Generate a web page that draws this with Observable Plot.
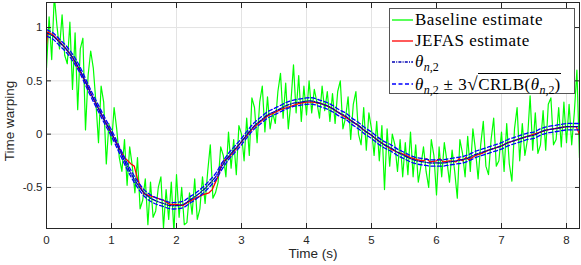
<!DOCTYPE html>
<html><head><meta charset="utf-8">
<script src="https://cdn.jsdelivr.net/npm/d3@7"></script>
<script src="https://cdn.jsdelivr.net/npm/@observablehq/plot@0.6"></script>
<style>
body{margin:0;background:#fff}
#wrap{position:relative;width:581px;height:265px}
#legend{position:absolute;left:389px;top:8px;width:184px;height:84px;border:1px solid #555;background:#fff;font-family:"Liberation Serif","Times New Roman",serif;font-size:17px;color:#000;letter-spacing:0.5px}
.row{position:absolute;left:0;height:22px;display:flex;align-items:center;white-space:nowrap}
.row svg{width:24px;height:22px;flex:none}
.row .t{margin-left:1px}
.sb{font-size:12px;position:relative;top:4px;letter-spacing:0}
.ov{border-top:1px solid #000;padding-top:1px}
.rad{font-size:19px}
#ylab{position:absolute;left:10px;top:121px;width:0;height:0}
#ylab span{position:absolute;left:0;top:0;transform:translate(-50%,-50%) rotate(-90deg);white-space:nowrap;font-family:'Liberation Sans',Arial,Helvetica,sans-serif;font-size:13.5px;color:#262626;line-height:1}
</style>
</head><body>
<div id="wrap"></div>
<script>
// ---- data ----
const xTicks = [0, 1, 2, 3, 4, 5, 6, 7, 8];
const yTicks = [-0.5, 0, 0.5, 1];
const xDomain = [0, 8.2];
const yDomain = [-0.885, 1.235];

// true warping theta_{n,2}, sampled every 0.1 s from t = 0
const thetaStep = 0.1;
const thetaValues = [
  0.95, 0.92, 0.86, 0.80, 0.72, 0.62, 0.49, 0.36, 0.24, 0.12,
  0.01, -0.12, -0.25, -0.37, -0.47, -0.55, -0.60, -0.63, -0.65, -0.67,
  -0.67, -0.66, -0.62, -0.58, -0.53, -0.47, -0.40, -0.30, -0.21, -0.14,
  -0.07, 0.01, 0.08, 0.13, 0.18, 0.21, 0.24, 0.27, 0.29, 0.30,
  0.31, 0.31, 0.29, 0.27, 0.24, 0.20, 0.17, 0.12, 0.08, 0.03,
  -0.01, -0.06, -0.10, -0.13, -0.17, -0.20, -0.23, -0.25, -0.26, -0.27,
  -0.27, -0.27, -0.26, -0.25, -0.24, -0.22, -0.19, -0.17, -0.15, -0.13,
  -0.11, -0.08, -0.06, -0.04, -0.02, -0.01, 0.02, 0.04, 0.05, 0.06,
  0.07, 0.07, 0.07
];
// 3*sqrt(CRLB) half-width of the confidence band
const crlbHalfWidth = 0.03;

// JEFAS estimate
const redTime = [0, 0.02, 0.1, 0.2, 0.3, 0.4, 0.5, 0.6, 0.7, 0.8, 0.9, 1.0, 1.1, 1.2, 1.25, 1.3, 1.35, 1.4, 1.45, 1.5,
  1.6, 1.7, 1.8, 1.9, 2.0, 2.1, 2.2, 2.3, 2.4, 2.5, 2.55, 2.6, 2.65, 2.7, 2.75, 2.8, 2.9, 3.0, 3.1, 3.2,
  3.3, 3.4, 3.5, 3.6, 3.7, 3.8, 3.9, 4.0, 4.1, 4.2, 4.3, 4.4, 4.5, 4.6, 4.7, 4.8, 4.9, 5.0, 5.1, 5.2,
  5.3, 5.4, 5.5, 5.6, 5.7, 5.8, 5.85, 5.9, 6.0, 6.05, 6.1, 6.2, 6.3, 6.35, 6.4, 6.45, 6.5, 6.6, 6.7, 6.8,
  6.9, 7.0, 7.1, 7.2, 7.3, 7.4, 7.5, 7.6, 7.7, 7.8, 7.9, 8.0, 8.1, 8.15, 8.2];
const redValue = [0.84, 0.96, 0.93, 0.87, 0.80, 0.72, 0.61, 0.49, 0.36, 0.24, 0.12, 0.01, -0.11, -0.22, -0.25, -0.28, -0.30, -0.42, -0.50, -0.56,
  -0.58, -0.60, -0.62, -0.66, -0.66, -0.67, -0.63, -0.60, -0.57, -0.55, -0.52, -0.45, -0.38, -0.27, -0.24, -0.22, -0.15, -0.07, 0.00, 0.07,
  0.12, 0.17, 0.20, 0.23, 0.25, 0.27, 0.29, 0.30, 0.30, 0.29, 0.27, 0.24, 0.20, 0.16, 0.12, 0.08, 0.03, -0.01, -0.06, -0.10,
  -0.14, -0.17, -0.19, -0.22, -0.24, -0.25, -0.23, -0.26, -0.25, -0.23, -0.26, -0.25, -0.26, -0.23, -0.25, -0.22, -0.24, -0.20, -0.18, -0.15,
  -0.13, -0.11, -0.08, -0.06, -0.04, -0.02, 0.00, 0.02, 0.04, 0.05, 0.06, 0.07, 0.07, 0.07, 0.00];

// Baseline estimate, sampled every 0.04 s from t = 0
const baseStep = 0.04;
const baseValues = [
  0.62, 1.10, 0.70, 1.30, 1.02, 0.80, 1.12, 0.74, 0.66, 1.05,
  0.42, 0.95, 0.23, 0.80, 0.90, 0.04, 0.55, 0.78, 0.62, 0.30,
  -0.08, 0.45, 0.30, -0.28, 0.10, -0.10, 0.25, 0.05, -0.22, -0.35,
  -0.05, -0.48, -0.12, -0.30, -0.55, -0.22, -0.70, -0.62, -0.42, -0.85,
  -0.45, -0.78, -0.72, -0.50, -0.40, -0.88, -0.52, -0.80, -0.45, -0.92,
  -0.38, -0.78, -0.50, -0.85, -0.83, -0.55, -0.75, -0.42, -0.80, -0.70,
  -0.40, -0.65, -0.35, -0.10, -0.60, -0.55, -0.45, -0.12, -0.20, -0.40,
  0.02, -0.32, -0.05, -0.38, 0.08, 0.00, -0.25, 0.15, -0.20, 0.34,
  0.25, -0.08, 0.30, 0.45, 0.02, 0.35, 0.05, 0.20, 0.10, 0.40,
  0.57, 0.15, 0.48, 0.05, 0.30, 0.65, 0.20, 0.55, 0.12, 0.45,
  0.18, 0.50, 0.20, 0.42, 0.30, 0.15, 0.45, 0.22, 0.40, 0.12,
  0.38, 0.10, 0.40, 0.50, 0.05, 0.15, 0.35, -0.05, 0.28, 0.40,
  0.00, -0.10, 0.25, -0.15, 0.20, 0.05, -0.20, 0.12, -0.25, 0.08,
  -0.52, 0.05, -0.30, 0.00, -0.10, -0.35, -0.05, -0.40, -0.08, -0.38,
  0.02, -0.40, -0.10, -0.45, -0.30, -0.12, -0.35, -0.50, -0.05, -0.20,
  -0.57, -0.12, -0.40, -0.08, -0.25, -0.45, -0.15, -0.35, -0.60, -0.05,
  -0.18, -0.40, -0.02, -0.35, 0.05, -0.15, -0.42, -0.10, 0.12, -0.30,
  -0.38, -0.05, 0.15, -0.30, -0.25, 0.02, -0.35, 0.10, -0.28, -0.44,
  0.05, 0.25, -0.25, 0.10, -0.20, -0.05, 0.36, -0.15, 0.20, -0.18,
  -0.10, 0.22, -0.15, 0.28, 0.34, -0.10, -0.05, 0.25, -0.12, 0.30,
  -0.08, 0.28, -0.10, 0.20, 0.60, -0.22
];

const labels = {x: "Time (s)", y: "Time warping"};
const colors = {base: "#00ff00", jefas: "#ff0000", theta: "#0000b4", band: "#0000ff"};

// ---- tables ----
const base = baseValues.map((v, i) => ({t: +(i * baseStep).toFixed(3), v}));
const red = redTime.map((t, i) => ({t, v: redValue[i]}));
const theta = thetaValues.map((v, i) => ({t: +(i * thetaStep).toFixed(3), v, hi: v + crlbHalfWidth, lo: v - crlbHalfWidth}));

const font = "'Liberation Sans', Arial, Helvetica, sans-serif";
const chart = Plot.plot({
  width: 581, height: 265,
  marginLeft: 46, marginRight: 2, marginTop: 2, marginBottom: 37,
  x: {domain: xDomain},
  y: {domain: yDomain},
  style: {fontFamily: font, fontSize: "11.5px", color: "#262626", background: "#fff", overflow: "visible"},
  marks: [
    Plot.gridX(xTicks, {stroke: "#e3e3e3", strokeOpacity: 1}),
    Plot.gridY(yTicks, {stroke: "#e3e3e3", strokeOpacity: 1}),
    Plot.line(base, {x: "t", y: "v", stroke: colors.base, strokeWidth: 1.2, clip: true}),
    Plot.line(red, {x: "t", y: "v", stroke: colors.jefas, strokeWidth: 1.3, clip: true}),
    Plot.line(theta, {x: "t", y: "v", curve: "catmull-rom", stroke: colors.theta, strokeWidth: 1.3, strokeDasharray: "4,1.5,1,1.5", clip: true}),
    Plot.line(theta, {x: "t", y: "hi", curve: "catmull-rom", stroke: colors.band, strokeWidth: 1.3, strokeDasharray: "4,2.5", clip: true}),
    Plot.line(theta, {x: "t", y: "lo", curve: "catmull-rom", stroke: colors.band, strokeWidth: 1.3, strokeDasharray: "4,2.5", clip: true}),
    Plot.frame({stroke: "#262626"}),
    Plot.axisX(xTicks, {anchor: "bottom", tickSize: -5, tickPadding: 12, label: null, tickFormat: d => String(d), stroke: "#262626", fill: "#262626"}),
    Plot.axisX(xTicks, {anchor: "top", tickSize: -5, label: null, tickFormat: () => "", stroke: "#262626"}),
    Plot.axisY(yTicks, {anchor: "left", tickSize: -5, tickPadding: 9, label: null, tickFormat: d => String(d), stroke: "#262626", fill: "#262626"}),
    Plot.axisY(yTicks, {anchor: "right", tickSize: -5, label: null, tickFormat: () => "", stroke: "#262626"}),
    Plot.text([labels.x], {text: d => d, frameAnchor: "bottom", dy: 29, fontSize: 13.5, fill: "#262626"})
  ]
});
const wrap = document.getElementById("wrap");
wrap.appendChild(chart);

// ---- y label ----
const yl = document.createElement("div");
yl.id = "ylab";
const ys = document.createElement("span");
ys.textContent = labels.y;
yl.appendChild(ys);
wrap.appendChild(yl);

// ---- legend ----
const lg = document.createElement("div");
lg.id = "legend";
const sub = '<i>θ</i><span class="sb"><i>n</i>,2</span>';
const rows = [
  {top: 0, color: colors.base, dash: "", html: "Baseline estimate"},
  {top: 21, color: colors.jefas, dash: "", html: "JEFAS estimate"},
  {top: 42, color: colors.theta, dash: "3,1.2,1,1.2", html: sub},
  {top: 64, color: colors.band, dash: "4,2.5", html: sub + ' ± 3<span class="rad">√</span><span class="ov">CRLB(' + sub + ')</span>'}
];
for (const r of rows) {
  const d = document.createElement("div");
  d.className = "row";
  d.style.top = r.top + "px";
  d.innerHTML = `<svg viewBox="0 0 24 22"><line x1="2" x2="23" y1="11" y2="11" stroke="${r.color}" stroke-width="1.3" ${r.dash ? `stroke-dasharray="${r.dash}"` : ""}/></svg><span class="t">${r.html}</span>`;
  lg.appendChild(d);
}
wrap.appendChild(lg);
</script>
</body></html>
